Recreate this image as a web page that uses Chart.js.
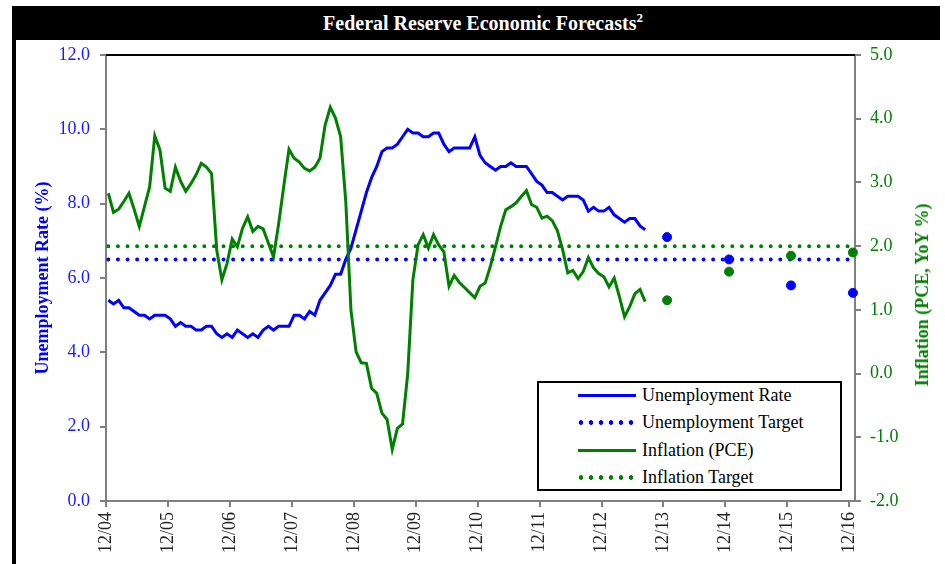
<!DOCTYPE html>
<html>
<head>
<meta charset="utf-8">
<title>Federal Reserve Economic Forecasts</title>
<script src="https://cdn.jsdelivr.net/npm/chart.js@4.4.1/dist/chart.umd.min.js"></script>
<style>
  html, body { margin: 0; padding: 0; background: #fff; }
  #wrap { position: relative; width: 945px; height: 564px; overflow: hidden; font-family: 'Liberation Serif', 'Times New Roman', serif; }
  #chart { position: absolute; left: 0; top: 0; }
  #title { position: absolute; left: 12px; top: 6px; width: 914px; padding-left: 14px; height: 34px; background: #000; color: #fff;
           font-weight: bold; font-size: 20px; line-height: 34px; text-align: center; }
  #title sup { font-size: 13px; line-height: 0; }
  #leftBar { position: absolute; left: 12px; top: 40px; width: 4px; height: 524px; background: #000; }
  #rightTitle { position: absolute; left: 922px; top: 295px; transform: translate(-50%, -50%) rotate(-90deg);
                white-space: nowrap; color: #008000; font-weight: bold; font-size: 18px; line-height: 20px; }
  #legend { position: absolute; left: 537px; top: 381px; width: 301px; height: 106px; border: 2px solid #000; background: #fff; }
  .row { position: absolute; left: 0; height: 20px; width: 100%; font-size: 18px; line-height: 20px; color: #000; }
  .row .txt { position: absolute; left: 103px; top: 0; white-space: nowrap; }
  .row .solid { position: absolute; left: 39px; top: 9px; width: 58px; height: 3px; }
  .row .dots { position: absolute; left: 37px; top: 8px; width: 60px; height: 5px; background-size: 10px 5px; background-repeat: repeat-x; }
</style>
</head>
<body>
<div id="wrap">
  <canvas id="chart" width="945" height="564"></canvas>
  <div id="title">Federal Reserve Economic Forecasts<sup>2</sup></div>
  <div id="leftBar"></div>
  <div id="rightTitle">Inflation (PCE, YoY %)</div>
  <div id="legend"></div>
</div>
<script>
// x axis: months counted from the start of December 2004, one tick per December
const tickLabels = ['12/04', '12/05', '12/06', '12/07', '12/08', '12/09', '12/10', '12/11', '12/12', '12/13', '12/14', '12/15', '12/16'];

// Unemployment rate (%), monthly Dec 2004 - Aug 2013
const unemploymentRate = [
  5.4,
  5.3, 5.4, 5.2, 5.2, 5.1, 5.0, 5.0, 4.9, 5.0, 5.0, 5.0, 4.9,
  4.7, 4.8, 4.7, 4.7, 4.6, 4.6, 4.7, 4.7, 4.5, 4.4, 4.5, 4.4,
  4.6, 4.5, 4.4, 4.5, 4.4, 4.6, 4.7, 4.6, 4.7, 4.7, 4.7, 5.0,
  5.0, 4.9, 5.1, 5.0, 5.4, 5.6, 5.8, 6.1, 6.1, 6.5, 6.8, 7.3,
  7.8, 8.3, 8.7, 9.0, 9.4, 9.5, 9.5, 9.6, 9.8, 10.0, 9.9, 9.9,
  9.8, 9.8, 9.9, 9.9, 9.6, 9.4, 9.5, 9.5, 9.5, 9.5, 9.8, 9.3,
  9.1, 9.0, 8.9, 9.0, 9.0, 9.1, 9.0, 9.0, 9.0, 8.8, 8.6, 8.5,
  8.3, 8.3, 8.2, 8.1, 8.2, 8.2, 8.2, 8.1, 7.8, 7.9, 7.8, 7.8,
  7.9, 7.7, 7.6, 7.5, 7.6, 7.6, 7.4, 7.3
];

// PCE inflation (YoY %), same months
const inflationPCE = [
  2.83,
  2.53, 2.58, 2.70, 2.83, 2.58, 2.31, 2.62, 2.93, 3.73, 3.51, 2.91, 2.86,
  3.24, 3.02, 2.86, 2.98, 3.12, 3.30, 3.24, 3.14, 1.94, 1.47, 1.73, 2.11,
  1.99, 2.28, 2.46, 2.23, 2.31, 2.27, 2.05, 1.83, 2.35, 2.95, 3.52, 3.38,
  3.32, 3.22, 3.18, 3.24, 3.38, 3.90, 4.18, 4.01, 3.72, 2.70, 1.00, 0.34,
  0.17, 0.16, -0.23, -0.31, -0.62, -0.72, -1.19, -0.86, -0.79, 0.00, 1.47, 2.02,
  2.18, 1.97, 2.18, 2.02, 1.91, 1.37, 1.54, 1.43, 1.35, 1.27, 1.19, 1.37,
  1.42, 1.68, 1.99, 2.31, 2.57, 2.62, 2.68, 2.78, 2.87, 2.65, 2.61, 2.44,
  2.47, 2.40, 2.24, 1.95, 1.58, 1.62, 1.49, 1.60, 1.82, 1.66, 1.57, 1.52,
  1.36, 1.50, 1.21, 0.89, 1.05, 1.25, 1.32, 1.13
];

// year-end projections 2013-2016
const forecastYears = ['12/13', '12/14', '12/15', '12/16'];
const unemploymentForecast = [7.1, 6.5, 5.8, 5.6];
const inflationForecast = [1.15, 1.6, 1.85, 1.9];

const unemploymentTarget = 6.5;
const inflationTarget = 2.0;

// monthly readings sit mid-month, projections late in December
const MID_MONTH = 0.45;
const LATE_DECEMBER = 0.7;

const BLUE = '#0000ff';
const GREEN = '#008000';
const AXIS_GRAY = '#808080';
const FONT = "'Liberation Serif', 'Times New Roman', serif";

const monthly = vals => vals.map((v, i) => ({ x: i + MID_MONTH, y: v }));
const atTicks = (labels, vals) => labels.map((l, k) => ({ x: tickLabels.indexOf(l) * 12 + LATE_DECEMBER, y: vals[k] }));
const flat = v => [{ x: MID_MONTH, y: v }, { x: (tickLabels.length - 1) * 12, y: v }];

// black frame line along the top of the plot
const topFrame = {
  id: 'topFrame',
  beforeDatasetsDraw(chart) {
    const { ctx, chartArea: a } = chart;
    ctx.save();
    ctx.strokeStyle = '#000';
    ctx.lineWidth = 2;
    ctx.beginPath();
    ctx.moveTo(a.left, a.top);
    ctx.lineTo(a.right, a.top);
    ctx.stroke();
    ctx.restore();
  }
};

const dotted = color => ({
  borderColor: color,
  borderWidth: 4,
  borderDash: [0, 9.6],
  borderCapStyle: 'round',
  pointRadius: 0,
  fill: false
});

const datasets = [
  { label: 'Unemployment Rate', data: monthly(unemploymentRate), yAxisID: 'y', borderColor: BLUE, borderWidth: 3, pointRadius: 0, order: 6 },
  Object.assign({ label: 'Unemployment Target', data: flat(unemploymentTarget), yAxisID: 'y', order: 5 }, dotted(BLUE)),
  { label: 'Unemployment Forecast', data: atTicks(forecastYears, unemploymentForecast), yAxisID: 'y', showLine: false, clip: false,
    pointRadius: 4.5, pointBackgroundColor: BLUE, pointBorderColor: BLUE, order: 4 },
  { label: 'Inflation (PCE)', data: monthly(inflationPCE), yAxisID: 'y2', borderColor: GREEN, borderWidth: 3, pointRadius: 0, order: 3 },
  Object.assign({ label: 'Inflation Target', data: flat(inflationTarget), yAxisID: 'y2', order: 2 }, dotted(GREEN)),
  { label: 'Inflation Forecast', data: atTicks(forecastYears, inflationForecast), yAxisID: 'y2', showLine: false, clip: false,
    pointRadius: 4.5, pointBackgroundColor: GREEN, pointBorderColor: GREEN, order: 1 }
];

const axisGrid = { drawOnChartArea: false, drawTicks: true, tickLength: 6, color: AXIS_GRAY, lineWidth: 2 };
const axisBorder = { display: true, color: AXIS_GRAY, width: 2 };

new Chart(document.getElementById('chart').getContext('2d'), {
  type: 'line',
  data: { datasets: datasets },
  options: {
    responsive: false,
    animation: false,
    layout: { padding: { top: 55, left: 0, right: 0, bottom: 0 } },
    plugins: { legend: { display: false }, tooltip: { enabled: false } },
    elements: { line: { tension: 0 } },
    scales: {
      x: {
        type: 'linear',
        min: 0,
        max: 145.1,
        grid: axisGrid,
        border: axisBorder,
        afterBuildTicks: s => { s.ticks = tickLabels.map((_, k) => ({ value: k * 12 })); },
        ticks: {
          autoSkip: false,
          minRotation: 90,
          maxRotation: 90,
          padding: 5,
          color: '#222',
          font: { family: FONT, size: 18 },
          callback: v => tickLabels[Math.round(v / 12)]
        },
        afterFit: s => { s.height = 63; }
      },
      y: {
        position: 'left',
        min: 0,
        max: 12,
        grid: axisGrid,
        border: axisBorder,
        ticks: { stepSize: 2, padding: 10, color: '#1a1aff', font: { family: FONT, size: 18 }, callback: v => v.toFixed(1) },
        title: { display: true, text: 'Unemployment Rate (%)', color: BLUE, padding: { top: 33, bottom: 0 },
                 font: { family: FONT, size: 18, weight: 'bold' } },
        afterFit: s => { s.width = 106; }
      },
      y2: {
        position: 'right',
        min: -2,
        max: 5,
        grid: axisGrid,
        border: axisBorder,
        ticks: { stepSize: 1, padding: 9, color: GREEN, font: { family: FONT, size: 18 }, callback: v => v.toFixed(1) },
        title: { display: false },
        afterFit: s => { s.width = 90; }
      }
    }
  },
  plugins: [topFrame]
});

// legend box
const legendItems = [
  { text: 'Unemployment Rate', color: BLUE, style: 'solid' },
  { text: 'Unemployment Target', color: BLUE, style: 'dots' },
  { text: 'Inflation (PCE)', color: GREEN, style: 'solid' },
  { text: 'Inflation Target', color: GREEN, style: 'dots' }
];
const legendEl = document.getElementById('legend');
legendItems.forEach((item, k) => {
  const row = document.createElement('div');
  row.className = 'row';
  row.style.top = (2 + k * 27.4) + 'px';
  const sample = document.createElement('div');
  sample.className = item.style;
  if (item.style === 'solid') {
    sample.style.background = item.color;
  } else {
    sample.style.backgroundImage = 'radial-gradient(circle at 5px 2.5px, ' + item.color + ' 2px, rgba(255,255,255,0) 2.6px)';
  }
  const txt = document.createElement('span');
  txt.className = 'txt';
  txt.textContent = item.text;
  row.appendChild(sample);
  row.appendChild(txt);
  legendEl.appendChild(row);
});
</script>
</body>
</html>
